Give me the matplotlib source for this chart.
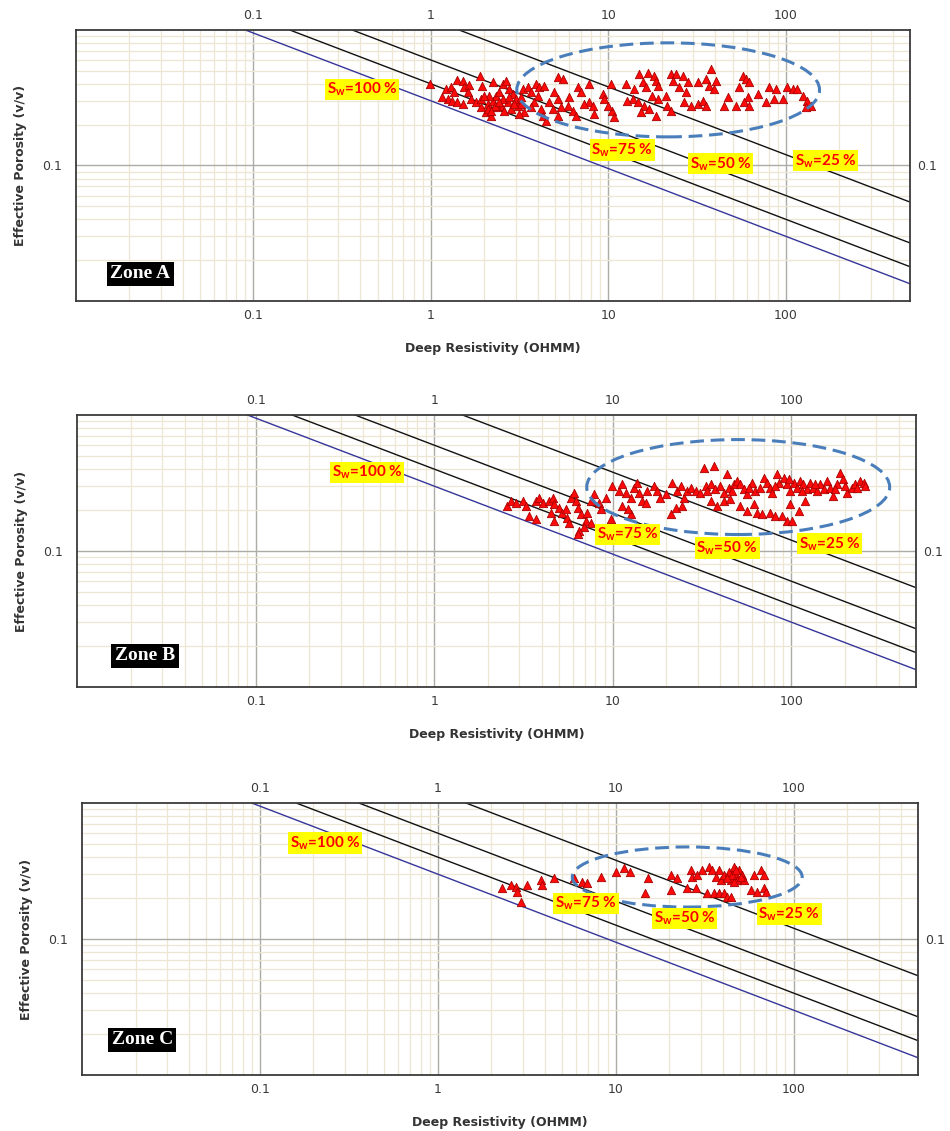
import matplotlib
matplotlib.use("Agg")
import matplotlib.pyplot as plt
from matplotlib.patches import Ellipse
from matplotlib.ticker import FixedLocator, FixedFormatter, LogLocator, NullFormatter

plt.rcParams['mathtext.fontset'] = 'custom'
plt.rcParams['mathtext.rm'] = 'Lato:bold'
plt.rcParams['mathtext.bf'] = 'Lato:bold'
plt.rcParams['mathtext.it'] = 'Lato:bold'
plt.rcParams['font.family'] = ['DejaVu Sans']

# ---------------- data ----------------
zones = ['Zone A', 'Zone B', 'Zone C']
xtick_vals = [0.1, 1, 10, 100]
xtick_labels = ['0.1', '1', '10', '100']
ytick_vals = [0.1]
ytick_labels = ['0.1']

sw_labels = [100, 75, 50, 25]
sw_rt_top = [0.09, 0.16, 0.36, 1.44]          # Rt where line meets phi = 1.0
sw_phi_right = [0.0134, 0.0179, 0.0268, 0.0537]  # phi where line meets Rt = 500
sw_colors = ['#35359a', '#111111', '#111111', '#111111']

rt_a = [0.99, 1.41, 1.51, 1.90, 1.94, 1.21, 1.30, 1.35, 1.54, 1.64,
        1.61, 1.24, 1.32, 1.41, 1.51, 1.16, 1.68, 1.79, 1.91, 2.04,
        2.18, 2.09, 2.23, 2.32, 2.43, 2.53, 2.65, 2.23, 2.76, 2.88,
        3.01, 2.70, 2.48, 2.59, 2.82, 3.08, 3.21, 3.28, 3.50, 3.66,
        3.90, 4.08, 4.35, 3.99, 3.82, 3.66, 4.17, 4.26, 4.44, 3.36,
        3.15, 5.17, 5.52, 4.95, 5.17, 4.64, 4.85, 5.17, 5.89, 6.28,
        6.70, 7.00, 7.80, 7.80, 8.15, 8.32, 7.31, 9.27, 9.47, 10.3,
        10.5, 10.8, 9.89, 6.56, 6.02, 5.40, 2.37, 1.91, 2.13, 2.09,
        2.0, 2.28, 2.53, 2.95, 2.76, 3.21, 2.43, 2.18,
        12.5, 14.0, 14.9, 15.6, 16.6, 18.1, 18.5, 18.9, 16.3, 13.7,
        14.6, 12.8, 15.9, 17.0, 15.2, 18.5, 17.7, 18.9, 21.1, 21.5,
        22.5, 22.5, 24.0, 23.0, 26.2, 27.9, 25.1, 27.3, 26.7, 29.2,
        31.8, 33.9, 35.4, 31.8, 35.4, 37.8, 37.0, 40.3, 39.5, 46.9,
        44.9, 52.3, 54.6, 57.0, 59.5, 62.1, 60.8, 58.2, 62.1, 69.2,
        77.1, 80.5, 87.8, 85.9, 95.8, 102, 109, 116, 124, 132,
        138, 130]
phi_a = [0.398, 0.429, 0.422, 0.454, 0.383, 0.366, 0.377, 0.346, 0.377, 0.392,
         0.346, 0.309, 0.301, 0.292, 0.284, 0.318, 0.309, 0.292, 0.268, 0.247,
         0.233, 0.284, 0.301, 0.327, 0.346, 0.398, 0.422, 0.410, 0.366, 0.337,
         0.309, 0.292, 0.276, 0.254, 0.261, 0.276, 0.284, 0.366, 0.377, 0.346,
         0.398, 0.377, 0.387, 0.327, 0.292, 0.268, 0.261, 0.233, 0.214, 0.247,
         0.240, 0.446, 0.433, 0.346, 0.309, 0.292, 0.261, 0.233, 0.276, 0.254,
         0.377, 0.346, 0.398, 0.292, 0.276, 0.240, 0.284, 0.337, 0.309, 0.398,
         0.254, 0.227, 0.276, 0.233, 0.318, 0.268, 0.268, 0.309, 0.327, 0.261,
         0.327, 0.276, 0.309, 0.284, 0.318, 0.318, 0.292, 0.254,
         0.398, 0.366, 0.472, 0.410, 0.485, 0.459, 0.422, 0.387, 0.377, 0.309,
         0.292, 0.301, 0.276, 0.261, 0.247, 0.233, 0.327, 0.309, 0.327, 0.276,
         0.254, 0.472, 0.472, 0.422, 0.459, 0.410, 0.377, 0.346, 0.292, 0.276,
         0.284, 0.301, 0.276, 0.410, 0.433, 0.514, 0.387, 0.422, 0.366, 0.318,
         0.276, 0.276, 0.377, 0.459, 0.433, 0.410, 0.318, 0.292, 0.276, 0.337,
         0.292, 0.377, 0.366, 0.309, 0.309, 0.377, 0.366, 0.366, 0.327, 0.301,
         0.276, 0.268]

rt_b = [2.56, 2.69, 2.87, 3.13, 3.27, 3.41, 3.71, 3.71, 3.87, 4.05,
        4.41, 4.60, 4.70, 4.50, 4.70, 5.01, 5.23, 5.46, 5.58, 5.70,
        5.82, 6.08, 6.21, 6.35, 6.62, 7.06, 6.91, 6.48, 6.35, 7.54,
        7.22, 7.54, 7.87, 8.39, 8.57, 9.14, 9.75, 9.96, 10.8, 11.3,
        11.8, 12.6, 13.2, 13.7, 14.0, 14.6, 15.3, 15.6, 17.0, 17.8,
        18.5, 19.8, 21.5, 23.0, 24.0, 25.0, 26.1, 21.1, 22.5, 24.5,
        12.6, 12.1, 11.3,
        32.4, 36.8, 43.7, 27.3, 29.1, 31.0, 33.1, 35.3, 37.6, 40.1,
        41.9, 44.7, 47.6, 49.7, 51.9, 54.2, 56.5, 60.3, 62.9, 67.1,
        70.0, 73.1, 76.3, 78.0, 83.2, 85.0, 90.6, 94.6, 98.7, 103,
        108, 112, 117, 122, 128, 133, 139, 145, 152, 158,
        165, 172, 180, 188, 196, 205, 218, 228, 243, 254,
        259, 120, 98.7, 110, 41.9, 51.9, 56.5, 61.6, 64.3, 68.6,
        76.3, 81.4, 88.7, 94.6, 101, 38.4, 45.6, 35.3,
        33.8, 46.6, 57.8, 81.4, 96.6, 115, 136, 176, 200, 233]
phi_b = [0.214, 0.233, 0.227, 0.233, 0.214, 0.181, 0.171, 0.233, 0.247, 0.227,
         0.233, 0.247, 0.220, 0.191, 0.166, 0.208, 0.191, 0.203, 0.176, 0.161,
         0.247, 0.268, 0.233, 0.208, 0.186, 0.166, 0.149, 0.140, 0.133, 0.161,
         0.191, 0.233, 0.261, 0.227, 0.203, 0.247, 0.171, 0.301, 0.276, 0.309,
         0.268, 0.247, 0.292, 0.318, 0.268, 0.233, 0.227, 0.276, 0.301, 0.276,
         0.247, 0.261, 0.318, 0.276, 0.301, 0.247, 0.276, 0.186, 0.208, 0.214,
         0.186, 0.203, 0.214,
         0.410, 0.422, 0.366, 0.292, 0.276, 0.268, 0.301, 0.309, 0.284, 0.301,
         0.268, 0.292, 0.309, 0.327, 0.309, 0.284, 0.261, 0.318, 0.276, 0.292,
         0.346, 0.318, 0.292, 0.268, 0.366, 0.318, 0.346, 0.309, 0.276, 0.318,
         0.292, 0.327, 0.309, 0.284, 0.318, 0.292, 0.276, 0.309, 0.284, 0.327,
         0.292, 0.254, 0.309, 0.377, 0.337, 0.268, 0.292, 0.309, 0.327, 0.318,
         0.301, 0.233, 0.220, 0.197, 0.233, 0.214, 0.197, 0.220, 0.191, 0.186,
         0.191, 0.181, 0.181, 0.166, 0.166, 0.214, 0.240, 0.233,
         0.276, 0.276, 0.292, 0.301, 0.337, 0.276, 0.309, 0.284, 0.301, 0.292]

rt_c = [2.31, 2.57, 2.74, 2.80, 2.93, 3.19, 3.79, 3.87, 4.50, 5.83,
        6.50, 6.93, 8.24, 10.0, 11.1, 12.1, 15.1, 14.7,
        20.4, 22.2, 26.4, 27.0, 28.8, 30.7, 33.4, 34.9, 36.5, 38.1,
        38.9, 40.6, 43.3, 46.2, 47.2, 49.3, 51.5, 44.3, 48.3, 52.6,
        59.8, 65.3, 68.1, 57.3, 62.5, 68.1, 69.6, 32.7, 35.7, 38.1,
        40.6, 42.4, 44.3, 25.3, 28.1, 20.4,
        45.2, 42.4, 50.4, 46.2, 47.2]
phi_c = [0.236, 0.250, 0.243, 0.223, 0.188, 0.250, 0.272, 0.250, 0.279, 0.279,
         0.264, 0.257, 0.287, 0.313, 0.331, 0.313, 0.279, 0.217,
         0.296, 0.279, 0.322, 0.287, 0.296, 0.322, 0.340, 0.322, 0.287, 0.322,
         0.272, 0.296, 0.313, 0.340, 0.296, 0.322, 0.296, 0.272, 0.272, 0.272,
         0.296, 0.322, 0.296, 0.229, 0.223, 0.236, 0.223, 0.217, 0.217, 0.217,
         0.217, 0.205, 0.205, 0.236, 0.236, 0.229,
         0.296, 0.279, 0.287, 0.264, 0.322]

rt_sets = [rt_a, rt_b, rt_c]
phi_sets = [phi_a, phi_b, phi_c]

# ---------------- layout (positions / styles) ----------------
axes_pos = [[0.0800, 0.7339, 0.8779, 0.2396],
            [0.0811, 0.3926, 0.8832, 0.2405],
            [0.0863, 0.0495, 0.8800, 0.2405]]
sw_text_pos = [
    [(0.343, 0.782), (0.655, 0.557), (0.773, 0.506), (0.899, 0.517)],
    [(0.346, 0.790), (0.656, 0.562), (0.775, 0.511), (0.897, 0.526)],
    [(0.291, 0.853), (0.603, 0.632), (0.721, 0.577), (0.846, 0.592)],
]
zone_text_pos = [(0.077, 0.101), (0.081, 0.114), (0.072, 0.129)]
ellipse_geom = [((0.710, 0.779), 0.363, 0.347),
                ((0.788, 0.735), 0.361, 0.349),
                ((0.724, 0.728), 0.275, 0.221)]

fig = plt.figure(figsize=(9.5, 11.31), dpi=100)

for i in range(3):
    ax = fig.add_axes(axes_pos[i])
    ax.set_xscale('log')
    ax.set_yscale('log')
    ax.set_xlim(0.01, 500)
    ax.set_ylim(0.01, 1.0)

    ax.xaxis.set_major_locator(FixedLocator(xtick_vals))
    ax.xaxis.set_major_formatter(FixedFormatter(xtick_labels))
    ax.yaxis.set_major_locator(FixedLocator(ytick_vals))
    ax.yaxis.set_major_formatter(FixedFormatter(ytick_labels))
    ax.xaxis.set_minor_locator(LogLocator(base=10, subs=range(2, 10), numticks=20))
    ax.yaxis.set_minor_locator(LogLocator(base=10, subs=range(2, 10), numticks=20))
    ax.xaxis.set_minor_formatter(NullFormatter())
    ax.yaxis.set_minor_formatter(NullFormatter())

    ax.set_axisbelow(True)
    ax.grid(which='minor', color='#ece7d2', linewidth=0.9)
    ax.grid(which='major', color='#acaca6', linewidth=1.0)

    ax.tick_params(which='both', length=0, top=True, right=True,
                   labeltop=True, labelright=True, labelsize=9,
                   labelcolor='#3a3a3a')
    ax.tick_params(axis='x', pad=6)
    ax.tick_params(axis='y', pad=10)
    for t in ax.yaxis.get_major_ticks():
        t.label2.set_x(0.9916)

    for sp in ax.spines.values():
        sp.set_color('#3a3a3a')
        sp.set_linewidth(1.3)

    # Sw lines
    for j in range(4):
        ax.plot([sw_rt_top[j], 500], [1.0, sw_phi_right[j]],
                color=sw_colors[j], linewidth=1.0, zorder=2)

    # data points
    ax.scatter(rt_sets[i], phi_sets[i], marker='^', s=36,
               facecolor='#ff0a0a', edgecolor='#a80000', linewidth=0.6, zorder=3)

    # ellipse
    (cx, cy), w, h = ellipse_geom[i]
    ax.add_patch(Ellipse((cx, cy), w, h, transform=ax.transAxes, fill=False,
                         edgecolor='#4a7ebb', linewidth=2.2,
                         linestyle=(0, (4.5, 2.2)), zorder=4))

    # Sw labels
    for j in range(4):
        x, y = sw_text_pos[i][j]
        ax.text(x, y, 'S$_{w}$=%d %%' % sw_labels[j], transform=ax.transAxes,
                ha='center', va='center', fontsize=11, fontweight='bold',
                family='Lato', color='#ff0000', zorder=5,
                bbox=dict(boxstyle='square,pad=0.12', fc='#ffff00', ec='none'))

    # Zone label
    zx, zy = zone_text_pos[i]
    ax.text(zx, zy, zones[i], transform=ax.transAxes, ha='center', va='center',
            fontsize=14, fontweight='bold', family='Liberation Serif',
            color='white', zorder=5,
            bbox=dict(boxstyle='square,pad=0.18', fc='black', ec='none'))

    ax.set_xlabel('Deep Resistivity (OHMM)', fontsize=9, fontweight='bold',
                  color='#333333')
    ax.set_ylabel('Effective Porosity (v/v)', fontsize=9, fontweight='bold',
                  color='#333333')
    ax.xaxis.set_label_coords(0.5, -0.151)
    ax.yaxis.set_label_coords(-0.059, 0.5)

fig.savefig('out.png', dpi=100, facecolor='white')
